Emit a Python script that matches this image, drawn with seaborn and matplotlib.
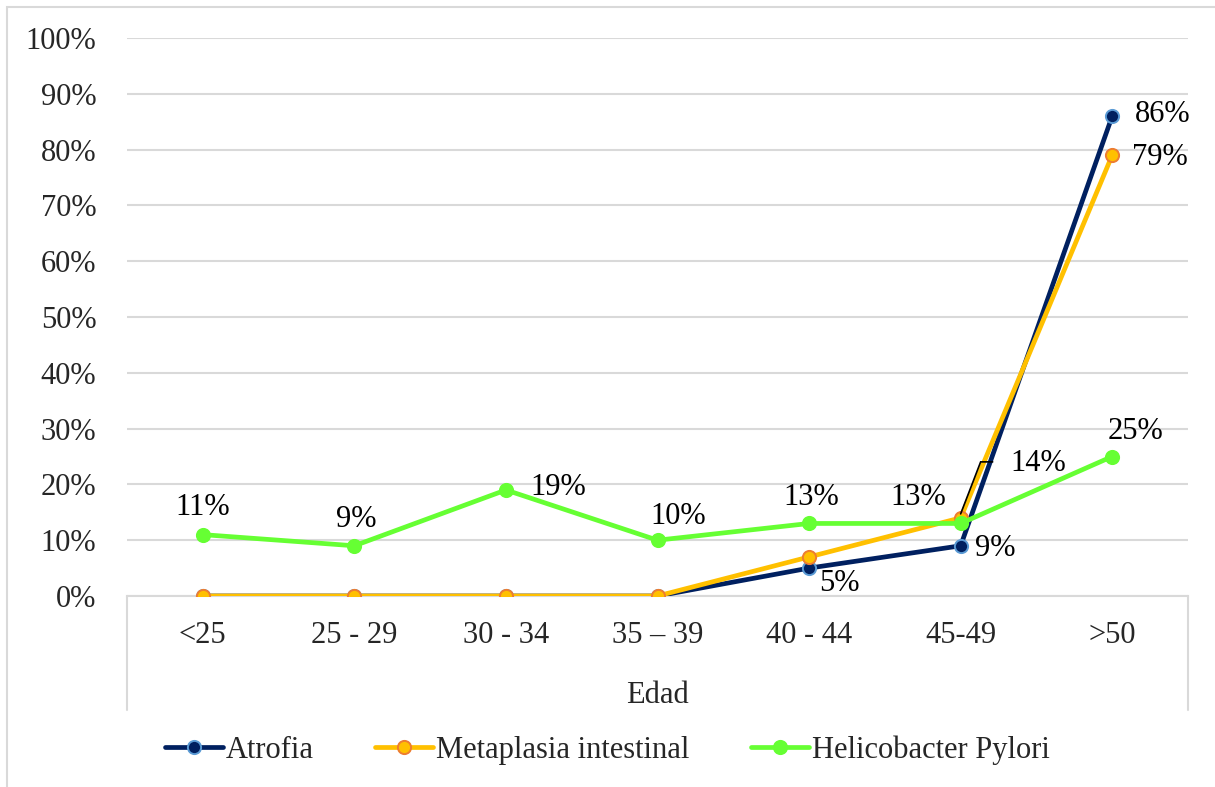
import matplotlib
matplotlib.use("Agg")
import matplotlib.pyplot as plt
import seaborn as sns
import pandas as pd
from matplotlib.patches import Rectangle
from matplotlib.ticker import PercentFormatter

# Data
edad = ["<25", "25 - 29", "30 - 34", "35 \u2013 39", "40 - 44", "45-49", ">50"]
atrofia = [0, 0, 0, 0, 5, 9, 86]
metaplasia = [0, 0, 0, 0, 7, 14, 79]
helicobacter = [11, 9, 19, 10, 13, 13, 25]

series_names = ["Atrofia", "Metaplasia intestinal", "Helicobacter Pylori"]

df = pd.DataFrame({
    "pos": list(range(len(edad))) * 3,
    "valor": atrofia + metaplasia + helicobacter,
    "serie": [series_names[0]] * 7 + [series_names[1]] * 7 + [series_names[2]] * 7,
})

sns.set_theme(style="white")
plt.rcParams["font.family"] = ["Liberation Serif", "DejaVu Serif"]
FS = 22
plt.rcParams["font.size"] = FS

W, H = 1215, 787
fig = plt.figure(figsize=(W / 100, H / 100), dpi=100)
ax = fig.add_axes([127 / W, 1 - 596 / H, (1188 - 127) / W, (596 - 38) / H])

# outer chart border
fig.patches.append(Rectangle((7 / W, -0.01), 1.02, 1 - 7 / H + 0.01, transform=fig.transFigure,
                             fill=False, edgecolor="#d9d9d9", linewidth=1.5))

styles = {
    "Atrofia": dict(color="#002060", mfc="#002060", mec="#5b9bd5"),
    "Metaplasia intestinal": dict(color="#ffc000", mfc="#ffc000", mec="#ed7d31"),
    "Helicobacter Pylori": dict(color="#66ff33", mfc="#66ff33", mec="#66ff33"),
}

for name in series_names:
    sub = df[df["serie"] == name]
    st = styles[name]
    sns.lineplot(data=sub, x="pos", y="valor", ax=ax, color=st["color"], linewidth=3.4,
                 marker="o", markersize=9.5, markerfacecolor=st["mfc"], markeredgecolor=st["mec"],
                 markeredgewidth=1.4, label=name, legend=False, zorder=3)

ax.set_xlim(-0.5, len(edad) - 0.5)
ax.set_ylim(0, 100)
ax.set_yticks(range(0, 101, 10))
ax.yaxis.set_major_formatter(PercentFormatter(decimals=0))
ax.set_xticks(range(len(edad)))
ax.set_xticklabels(edad)
ax.tick_params(axis="y", length=0, pad=22, labelsize=FS)
ax.tick_params(axis="x", length=0, pad=18, labelsize=FS)
ax.set_xlabel("Edad", fontsize=FS, labelpad=22)
ax.set_ylabel("")
ax.grid(axis="y", color="#d9d9d9", linewidth=1.5, zorder=0)
ax.set_axisbelow(True)
for s in ["top", "right", "left"]:
    ax.spines[s].set_visible(False)
ax.spines["bottom"].set_color("#d9d9d9")
ax.spines["bottom"].set_linewidth(1.5)

# category axis end lines below the plot
for xa in (0, 1):
    ax.plot([xa, xa], [0, -114 / 558], transform=ax.transAxes, color="#d9d9d9",
            linewidth=1.5, clip_on=False)

# data labels (offsets in pixels)
def lab(values, idx, dx, dy):
    ax.annotate(f"{values[idx]}%", (idx, values[idx]), xytext=(dx, dy), textcoords="offset pixels",
                ha="center", va="center", fontsize=FS, color="black", zorder=5)

for i, (dx, dy) in enumerate([(0, 27), (2, 26), (52, 2), (21, 24), (2, 26), (-42, 26), (23, 25)]):
    lab(helicobacter, i, dx, dy)
lab(atrofia, 4, 30, -15)
lab(atrofia, 5, 35, -3)
lab(atrofia, 6, 50, 2)
lab(metaplasia, 6, 48, -2)

# 14% label with leader line
ax.annotate(f"{metaplasia[5]}%", (5, metaplasia[5]), xytext=(78, 54), textcoords="offset pixels",
            ha="center", va="center", fontsize=FS, color="black", zorder=5)
p0 = ax.transData.transform((5, metaplasia[5]))
inv = ax.transData.inverted()
pts = [inv.transform((p0[0], p0[1] + 4)), inv.transform((p0[0] + 20, p0[1] + 56)),
       inv.transform((p0[0] + 32, p0[1] + 56))]
ax.plot([p[0] for p in pts], [p[1] for p in pts], color="black", linewidth=1.2, zorder=6,
        solid_joinstyle="miter")

h, l = ax.get_legend_handles_labels()
fig.legend(h, l, loc="center", bbox_to_anchor=(0.5, 1 - 750 / H), ncol=3, frameon=False,
           fontsize=FS, handlelength=1.9, columnspacing=2.0, handletextpad=0.1)

fig.savefig("out.png", dpi=100)
